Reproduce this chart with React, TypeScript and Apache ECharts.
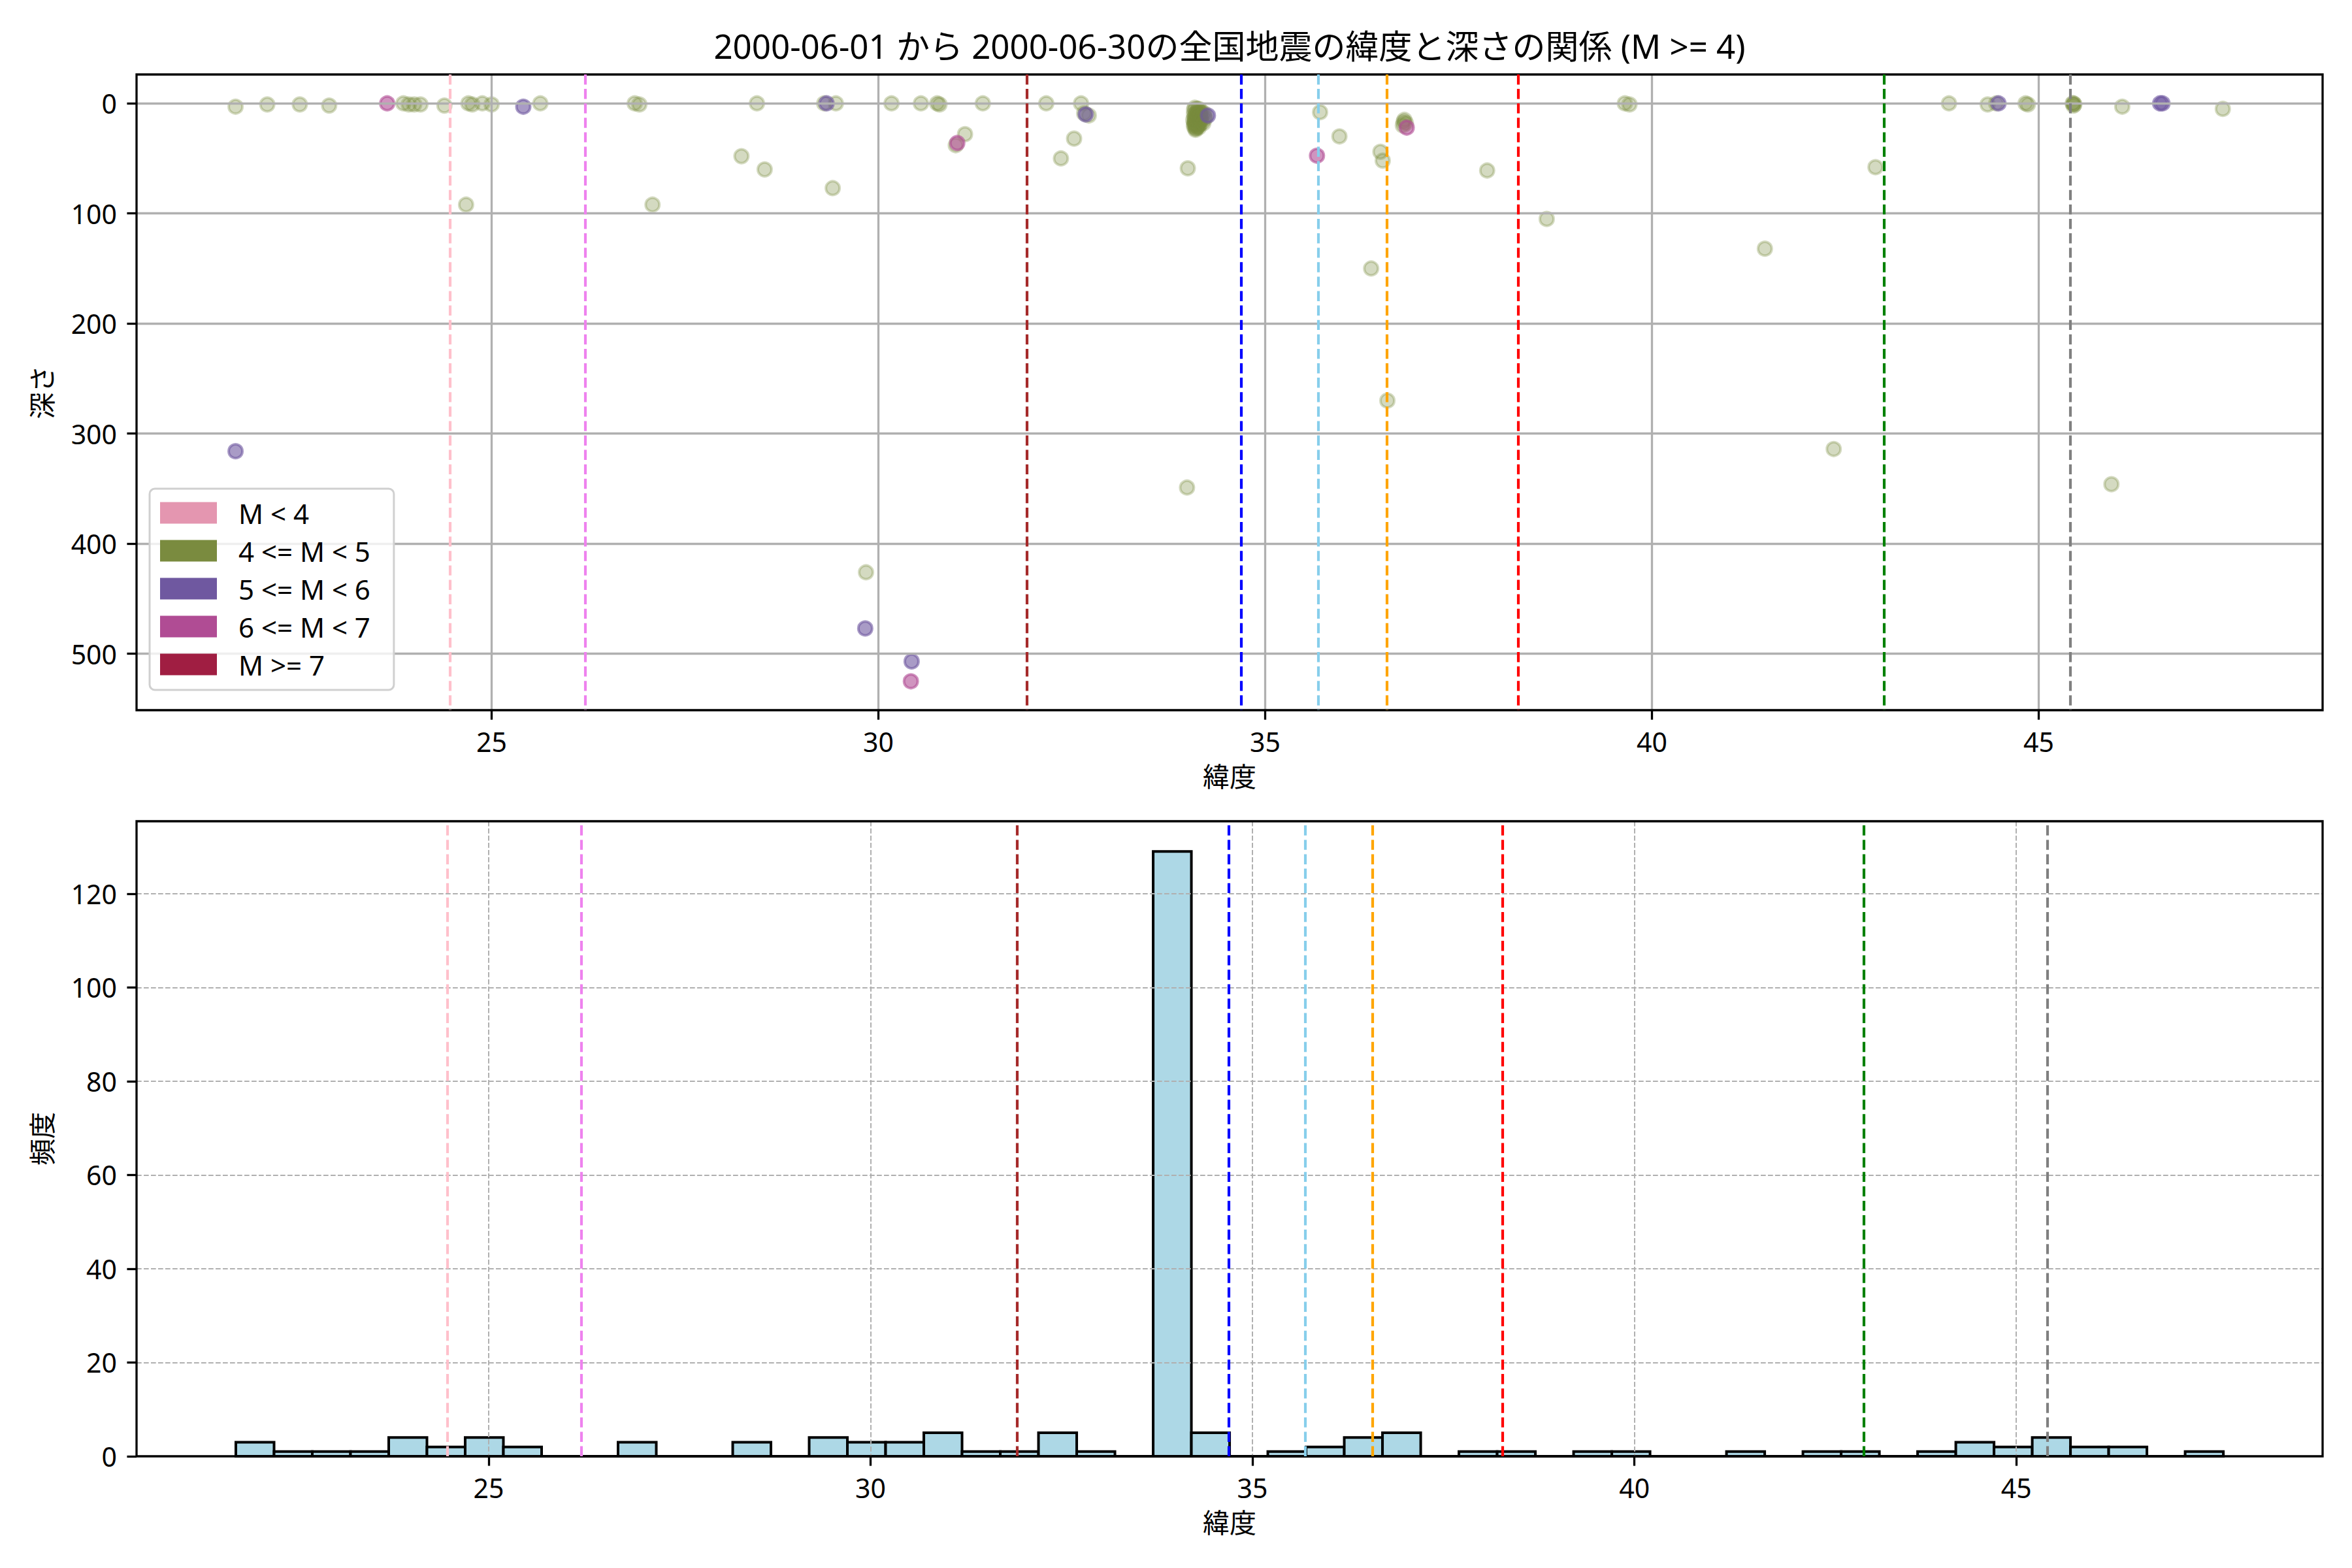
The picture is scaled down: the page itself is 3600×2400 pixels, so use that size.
import React, { useEffect, useRef } from "react";
import * as echarts from "echarts";

const TITLE = "2000-06-01 から 2000-06-30の全国地震の緯度と深さの関係 (M >= 4)";
const FONT = "'Noto Sans', 'Noto Sans CJK JP', sans-serif";

// Magnitude classes
const CLASS_NAMES = ["M < 4", "4 <= M < 5", "5 <= M < 6", "6 <= M < 7", "M >= 7"];
const CLASS_COLORS = ["#e496b0", "#7a8b3f", "#6f58a0", "#b04c94", "#a01e42"];
const CLASS_RGB = ["228,150,176", "122,139,63", "111,88,160", "176,76,148", "160,30,66"];
const CLASS_ALPHA = [0.4, 0.4, 0.75, 0.75, 0.85];

// [latitude, depth]
const M_LT4: number[][] = [];
const M_4_5: number[][] = [
  [21.69, 3], [22.10, 1], [22.52, 1], [22.90, 2],
  [23.86, 0], [23.93, 1], [24.00, 1], [24.08, 1],
  [24.39, 2], [24.70, 0], [24.75, 1], [24.88, 0], [25.00, 1],
  [25.63, 0], [26.85, 0], [26.91, 1], [28.43, 0], [29.30, 0], [29.45, 0],
  [30.17, 0], [30.55, 0], [30.76, 0], [30.79, 1], [31.35, 0],
  [32.17, 0], [32.62, 0], [32.66, 9], [32.72, 11],
  [35.71, 8], [39.65, 0], [39.71, 1],
  [43.84, 0], [44.34, 1], [44.45, 0], [44.83, 0], [44.86, 1],
  [45.44, 0], [45.46, 1], [45.45, 2], [45.45, 0], [46.08, 3], [47.38, 5],
  [31.12, 28], [31.00, 38], [32.53, 32], [28.23, 48], [28.53, 60], [32.36, 50],
  [34.00, 59], [37.87, 61], [42.89, 58], [29.41, 77], [24.67, 92], [27.08, 92],
  [35.96, 30], [36.49, 44], [36.52, 52], [36.80, 15], [36.82, 18], [36.78, 20], [36.79, 17],
  [38.64, 105], [36.37, 150], [41.46, 132],
  [36.58, 270], [42.35, 314], [33.99, 349], [45.94, 346], [29.84, 426],
  // Miyakejima swarm cluster
  [34.08, 10], [34.10, 12], [34.12, 8], [34.13, 14], [34.15, 10], [34.09, 18],
  [34.12, 20], [34.15, 16], [34.10, 24], [34.08, 6], [34.14, 5], [34.17, 9],
  [34.07, 15], [34.11, 22], [34.13, 21], [34.16, 13], [34.09, 4], [34.15, 19],
  [34.12, 11], [34.08, 21], [34.10, 16], [34.14, 8], [34.16, 18], [34.09, 13],
  [34.18, 12], [34.08, 19], [34.13, 17], [34.11, 14], [34.17, 7], [34.10, 23],
  [34.12, 5], [34.15, 12], [34.11, 9], [34.14, 22], [34.17, 15], [34.09, 17],
  [34.13, 10], [34.11, 19], [34.16, 11], [34.12, 15],
  [34.21, 9], [34.22, 14], [34.20, 18], [34.23, 12],
];
const M_5_6: number[][] = [
  [25.41, 3], [29.33, 0], [32.68, 10], [34.26, 11], [44.48, 0], [46.57, 0], [46.60, 0],
  [21.69, 316], [29.83, 477], [30.43, 507],
];
const M_6_7: number[][] = [
  [23.65, 0], [31.02, 36], [35.67, 47.5], [36.83, 22], [30.42, 525],
];
const M_GE7: number[][] = [];
const CLASS_DATA = [M_LT4, M_4_5, M_5_6, M_6_7, M_GE7];

// Reference latitudes (vertical dashed lines)
const REF_LATS = [24.46, 26.21, 31.92, 34.69, 35.69, 36.57, 38.27, 43.0, 45.41];
const REF_COLORS = ["pink", "violet", "brown", "blue", "skyblue", "orange", "red", "green", "gray"];

// Histogram of latitude (52 bins)
const HIST_START = 21.69;
const HIST_BIN = 0.5004;
const HIST_COUNTS = [
  3, 1, 1, 1, 4, 2, 4, 2, 0, 0, 3, 0, 0, 3, 0, 4, 3, 3, 5, 1, 1, 5, 1, 0, 129, 5,
  0, 1, 2, 4, 5, 0, 1, 1, 0, 1, 1, 0, 0, 1, 0, 1, 1, 0, 1, 3, 2, 4, 2, 2, 0, 1,
];

const LAT_TICKS = [25, 30, 35, 40, 45];
const DEPTH_TICKS = [0, 100, 200, 300, 400, 500];
const FREQ_TICKS = [0, 20, 40, 60, 80, 100, 120];

export default function App() {
  const ref = useRef<HTMLDivElement>(null);

  useEffect(() => {
    if (!ref.current) return;
    const chart = echarts.init(ref.current, null, { renderer: "svg" });

    const L = 209, R = 45, W = 3600 - L - R;
    const topGrid = { left: L, top: 114, width: W, height: 973 };
    const botGrid = { left: L, top: 1257, width: W, height: 972 };

    const tickStyle = { show: true, length: 14.6, inside: false, lineStyle: { color: "#000", width: 3.3 } };
    const labelStyle = { color: "#000", fontSize: 41, fontFamily: FONT };

    const xAxisCommon = (gridIndex: number, min: number, max: number, dashed: boolean) => ({
      type: "value",
      gridIndex,
      min,
      max,
      z: 3,
      name: "緯度",
      nameLocation: "middle",
      nameGap: 80,
      nameTextStyle: { color: "#000", fontSize: 41, fontFamily: FONT },
      axisLine: { show: false, onZero: false },
      axisTick: { ...tickStyle, customValues: LAT_TICKS },
      axisLabel: { ...labelStyle, margin: 27, customValues: LAT_TICKS },
      splitLine: {
        show: true,
        lineStyle: dashed
          ? { color: "#b0b0b0", width: 2, type: [7.7, 3.3] }
          : { color: "#b0b0b0", width: 3.3 },
      },
    });

    const scatterSeries = CLASS_NAMES.map((name, i) => ({
      name,
      type: "scatter",
      xAxisIndex: 0,
      yAxisIndex: 0,
      z: 2,
      symbol: "circle",
      symbolSize: 21,
      data: CLASS_DATA[i],
      itemStyle: {
        color: `rgba(${CLASS_RGB[i]},${CLASS_ALPHA[i]})`,
        borderColor: `rgba(${CLASS_RGB[i]},${CLASS_ALPHA[i]})`,
        borderWidth: 4,
      },
      emphasis: { disabled: true },
    }));

    const refLineData = REF_LATS.map((v, i) => ({ xAxis: v, lineStyle: { color: REF_COLORS[i] } }));
    const markLineCommon = {
      silent: true,
      symbol: ["none", "none"],
      label: { show: false },
      lineStyle: { width: 4.17, type: [15.4, 6.7] },
      data: refLineData,
    };

    const histData = HIST_COUNTS.map((c, i) => [
      HIST_START + i * HIST_BIN,
      HIST_START + (i + 1) * HIST_BIN,
      c,
    ]);

    const option: any = {
      animation: false,
      backgroundColor: "#fff",
      title: {
        text: TITLE,
        left: 1882,
        top: 44,
        padding: 0,
        textAlign: "center",
        textStyle: { color: "#000", fontSize: 51, fontWeight: "normal", fontFamily: FONT },
      },
      legend: {
        orient: "vertical",
        left: 229,
        top: 748,
        z: 10,
        padding: [16, 36, 18, 16],
        itemWidth: 87,
        itemHeight: 33,
        itemGap: 16,
        icon: "rect",
        backgroundColor: "rgba(255,255,255,0.8)",
        borderColor: "#d0d0d0",
        borderWidth: 3,
        borderRadius: 8,
        selectedMode: false,
        textStyle: { color: "#000", fontSize: 42, fontFamily: FONT, padding: [0, 0, 0, 28] },
        data: CLASS_NAMES.map((n, i) => ({
          name: n,
          itemStyle: { color: CLASS_COLORS[i], borderWidth: 0, opacity: 1 },
        })),
      },
      grid: [
        { ...topGrid, show: true, z: 5, borderColor: "#000", borderWidth: 3.3, backgroundColor: "transparent" },
        { ...botGrid, show: true, z: 5, borderColor: "#000", borderWidth: 3.3, backgroundColor: "transparent" },
      ],
      xAxis: [
        xAxisCommon(0, 20.41, 48.67, false),
        xAxisCommon(1, 20.39, 49.01, true),
      ],
      yAxis: [
        {
          type: "value",
          gridIndex: 0,
          min: -26.25,
          max: 551.25,
          inverse: true,
          z: 3,
          name: "深さ",
          nameLocation: "middle",
          nameGap: 125,
          nameTextStyle: { color: "#000", fontSize: 41, fontFamily: FONT },
          axisLine: { show: false, onZero: false },
          axisTick: { ...tickStyle, customValues: DEPTH_TICKS },
          axisLabel: { ...labelStyle, margin: 30, customValues: DEPTH_TICKS },
          splitLine: { show: true, lineStyle: { color: "#b0b0b0", width: 3.3 } },
        },
        {
          type: "value",
          gridIndex: 1,
          min: 0,
          max: 135.45,
          z: 3,
          name: "頻度",
          nameLocation: "middle",
          nameGap: 125,
          nameTextStyle: { color: "#000", fontSize: 41, fontFamily: FONT },
          axisLine: { show: false, onZero: false },
          axisTick: { ...tickStyle, customValues: FREQ_TICKS },
          axisLabel: { ...labelStyle, margin: 30, customValues: FREQ_TICKS },
          splitLine: { show: true, lineStyle: { color: "#b0b0b0", width: 2, type: [7.7, 3.3] } },
        },
      ],
      series: [
        ...scatterSeries,
        {
          name: "refTop",
          type: "scatter",
          xAxisIndex: 0,
          yAxisIndex: 0,
          z: 4,
          data: [],
          markLine: markLineCommon,
        },
        {
          name: "hist",
          type: "custom",
          xAxisIndex: 1,
          yAxisIndex: 1,
          z: 2,
          data: histData,
          encode: { x: [0, 1], y: 2 },
          renderItem: (params: any, api: any) => {
            const p0 = api.coord([api.value(0), api.value(2)]);
            const p1 = api.coord([api.value(1), 0]);
            return {
              type: "rect",
              shape: { x: p0[0], y: p0[1], width: p1[0] - p0[0], height: p1[1] - p0[1] },
              style: { fill: "#add8e6", stroke: "#000", lineWidth: 4 },
            };
          },
        },
        {
          name: "refBottom",
          type: "scatter",
          xAxisIndex: 1,
          yAxisIndex: 1,
          z: 4,
          data: [],
          markLine: markLineCommon,
        },
      ],
    };

    chart.setOption(option);
    return () => chart.dispose();
  }, []);

  return (
    <div
      ref={ref}
      style={{ position: "absolute", left: 0, top: 0, width: 3600, height: 2400, background: "#fff" }}
    />
  );
}
